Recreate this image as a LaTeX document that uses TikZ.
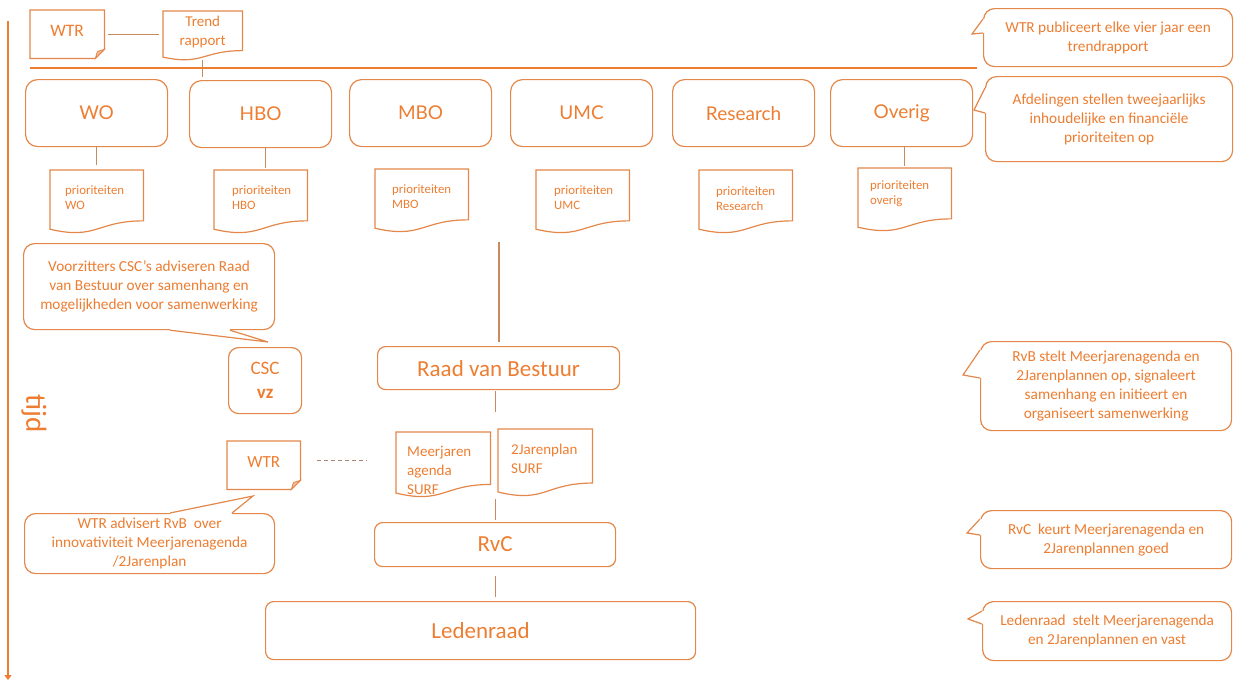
\documentclass[tikz,border=0pt]{standalone}
\usepackage{fontspec}
\setmainfont{Carlito}
\newfontfamily\deptfont{Lato}
\usetikzlibrary{arrows.meta,calc}

\definecolor{surforange}{HTML}{ED7D31}
\definecolor{surfedge}{HTML}{E4874A}
\definecolor{surflink}{HTML}{C98A5E}
\definecolor{surfdash}{HTML}{A8876E}

\newcommand\fsz[2]{\fontsize{#1}{#2}\selectfont}

% document symbol with a wavy lower edge
\newcommand\docoutline[1]{%
  \draw[edge line] (#1.north west) -- (#1.north east)
    -- ($(#1.north east)!0.802!(#1.south east)$)
    .. controls ($(#1.north)!0.802!(#1.south)$) and ($(#1.north)!1.107!(#1.south)$)
    .. ($(#1.north west)!0.934!(#1.south west)$) -- cycle;}

% sheet with a folded lower right corner
\newcommand\foldoutline[1]{%
  \draw[edge line] (#1.north west) -- (#1.north east) -- ($(#1.south east)+(0,-9)$)
    -- ($(#1.south east)+(-9,0)$) -- (#1.south west) -- cycle;
  \filldraw[edge line, line width=0.8pt, fill=surfedge!55] ($(#1.south east)+(-9,0)$)
    -- ($(#1.south east)+(-7,-7)$) -- ($(#1.south east)+(0,-9)$) -- cycle;}

% speech bubble pointer: base point, tip, base point, inward offset
\newcommand\calloutpointer[4]{%
  \fill[white] #1 -- #2 -- #3 -- ($#3+#4$) -- ($#1+#4$) -- cycle;
  \draw[edge line, line join=miter] #1 -- #2 -- #3;}

\tikzset{
  edge line/.style={draw=surfedge, line width=1.2pt},
  dept/.style={edge line, rounded corners=12pt, anchor=north west, minimum width=142pt,
    minimum height=67pt, inner sep=0pt, text=surforange, font=\deptfont\fsz{19}{23}},
  govbox/.style={edge line, rounded corners=8pt, anchor=north west, inner sep=0pt,
    text=surforange, font=\fsz{23}{27}},
  callout/.style={edge line, rounded corners=11pt, anchor=north west, fill=white,
    inner sep=0pt, text=surforange, align=center, font=\fsz{15.3}{19}},
  docarea/.style={inner sep=0pt, anchor=north west},
  doctext/.style={inner sep=0pt, anchor=north west, align=left, text=surforange},
  prio/.style={minimum width=93pt, minimum height=63pt},
  prio text/.style={font=\fsz{12.8}{15.3}},
  plan text/.style={font=\fsz{15}{19}},
  wtrdoc/.style={minimum width=74pt, minimum height=48pt, text=surforange,
    font=\fsz{17.5}{21}, text depth=7pt},
  link/.style={draw=surflink, line width=1.2pt},
  dashlink/.style={draw=surfdash, line width=1.2pt, dash pattern=on 4pt off 3pt},
  timeaxis/.style={draw=surforange, line width=1.4pt, -{Triangle[width=7pt,length=5pt]}},
  topbar/.style={draw=surforange, line width=1.4pt},
}

\begin{document}
\begin{tikzpicture}[x=1pt, y=-1pt]
\useasboundingbox (0,0) rectangle (1234,681);

% time axis
\coordinate (timeTop) at (8,21);
\coordinate (timeEnd) at (8,680);
\draw[timeaxis] (timeTop) -- (timeEnd);
\node[rotate=-90, inner sep=0pt, text=surforange, font=\fsz{29}{33}] (tijd) at (34,414) {tijd};

% trend report
\node[docarea, wtrdoc] (wtrTop) at (30,10) {WTR};
\foldoutline{wtrTop}
\node[docarea, minimum width=79pt, minimum height=49pt,
  label={[doctext, anchor=north, align=center, yshift=-4.5pt, plan text]north:Trend\\rapport}] (trend) at (163,11) {};
\docoutline{trend}

\coordinate (barL) at (30,68);
\coordinate (barR) at (977,68);
\draw[topbar] (barL) -- (barR);

% departments
\node[dept] (WO) at (25,79) {WO};
\node[dept] (HBO) at (189,80) {HBO};
\node[dept] (MBO) at (349,79) {MBO};
\node[dept] (UMC) at (510,79) {UMC};
\node[dept] (Res) at (672,79) {Research};
\node[dept] (Ove) at (830,79) {Overig};

% priorities per department
\node[docarea, prio, label={[doctext, prio text, xshift=15pt, yshift=-15.2pt]north west:prioriteiten\\WO}] (dWO) at (50,170) {};
\node[docarea, prio, label={[doctext, prio text, xshift=18pt, yshift=-15.2pt]north west:prioriteiten\\HBO}] (dHBO) at (214,170) {};
\node[docarea, prio, label={[doctext, prio text, xshift=17pt, yshift=-15.2pt]north west:prioriteiten\\MBO}] (dMBO) at (375,169) {};
\node[docarea, prio, label={[doctext, prio text, xshift=18pt, yshift=-15.2pt]north west:prioriteiten\\UMC}] (dUMC) at (536,170) {};
\node[docarea, prio, label={[doctext, prio text, xshift=17pt, yshift=-16.2pt]north west:prioriteiten\\Research}] (dRes) at (699,170) {};
\node[docarea, prio, label={[doctext, prio text, xshift=12pt, yshift=-12.2pt]north west:prioriteiten\\overig}] (dOve) at (858,168) {};
\foreach \d in {dWO,dHBO,dMBO,dUMC,dRes,dOve} {\docoutline{\d}}

% governance chain
\node[govbox, rounded corners=10pt, minimum width=73pt, minimum height=66pt, align=center,
  font=\fsz{19}{24}] (csc) at (228,347) {CSC\\\textbf{vz}};
\node[govbox, minimum width=242pt, minimum height=43pt] (raad) at (377,346) {Raad van Bestuur};
\node[docarea, wtrdoc, minimum width=73pt, font=\fsz{17}{21}] (wtrLow) at (227,441) {WTR};
\foldoutline{wtrLow}
\node[docarea, minimum width=94pt, minimum height=65pt,
  label={[doctext, plan text, xshift=11pt, yshift=-13.7pt]north west:Meerjaren\\agenda\\SURF}] (mja) at (396,432) {};
\node[docarea, minimum width=94pt, minimum height=67pt,
  label={[doctext, plan text, xshift=13pt, yshift=-14.5pt]north west:2Jarenplan\\SURF}] (jp) at (498,429) {};
\docoutline{mja}
\docoutline{jp}
\node[govbox, minimum width=241pt, minimum height=44pt] (rvc) at (374,522) {RvC};
\node[govbox, minimum width=430pt, minimum height=58pt] (leden) at (265,601) {Ledenraad};

% connectors
\draw[link, shorten <=4pt, shorten >=4pt] (wtrTop.east) -- (wtrTop.east -| trend.west);
\draw[link, shorten >=3pt] (trend.south) -- (trend.south |- HBO.north);
\draw[link, shorten >=5pt] (WO.south) -- (WO.south |- dWO.north);
\draw[link, shorten >=2pt] ([xshift=5pt]HBO.south) -- ([xshift=5pt]HBO.south |- dHBO.north);
\draw[link, shorten >=2pt] ([xshift=3pt]Ove.south) -- ([xshift=3pt]Ove.south |- dOve.north);
\coordinate (collect) at (499,242);
\draw[link, shorten >=4pt] (collect) -- (collect |- raad.north);
\draw[link, shorten <=1pt, shorten >=17pt] ([xshift=-3pt]raad.south) -- ([xshift=-3pt]raad.south |- jp.north);
\draw[link, shorten <=2pt, shorten >=2pt] (rvc.north |- mja.south) -- (rvc.north);
\draw[link, shorten <=9pt, shorten >=4pt] (rvc.south) -- (rvc.south |- leden.north);
\draw[dashlink, shorten <=17pt, shorten >=29pt] ([yshift=5pt]wtrLow.east) -- ([yshift=5pt]wtrLow.east -| mja.west);

% explanations
\node[callout, minimum width=249pt, minimum height=58pt] (cTrend) at (983,8)
  {WTR publiceert elke vier jaar een\\trendrapport};
\node[callout, minimum width=247pt, minimum height=85pt] (cAfd) at (985,76)
  {Afdelingen stellen tweejaarlijks\\inhoudelijke en financiële\\prioriteiten op};
\node[callout, minimum width=251pt, minimum height=86pt] (cCsc) at (23,243)
  {Voorzitters CSC’s adviseren Raad\\van Bestuur over samenhang en\\mogelijkheden voor samenwerking};
\node[callout, minimum width=250pt, minimum height=60pt] (cWtr) at (24,513)
  {WTR advisert RvB\ \ over\\innovativiteit Meerjarenagenda\\/2Jarenplan};
\node[callout, minimum width=251pt, minimum height=89pt] (cRvb) at (980,341)
  {RvB stelt Meerjarenagenda en\\2Jarenplannen op, signaleert\\samenhang en initieert en\\organiseert samenwerking};
\node[callout, minimum width=251pt, minimum height=58pt] (cRvc) at (980,510)
  {RvC\ \ keurt Meerjarenagenda en\\2Jarenplannen goed};
\node[callout, minimum width=249pt, minimum height=59pt] (cLed) at (982,601)
  {Ledenraad\ \ stelt Meerjarenagenda\\en 2Jarenplannen en vast};

\calloutpointer{(cTrend.west |- 0,19)}{(972,34)}{(cTrend.west |- 0,33)}{(2,0)}
\calloutpointer{(cAfd.west |- 0,88)}{(974,110)}{(cAfd.west |- 0,113)}{(2,0)}
\calloutpointer{(cCsc.south -| 170,0)}{(268,342)}{(cCsc.south -| 230,0)}{(0,-2)}
\calloutpointer{(cWtr.north -| 170,0)}{(253,496)}{(cWtr.north -| 232,0)}{(0,2)}
\calloutpointer{(cRvb.west |- 0,350)}{(963,375)}{(cRvb.west |- 0,378)}{(2,0)}
\calloutpointer{(cRvc.west |- 0,519)}{(967,533)}{(cRvc.west |- 0,535)}{(2,0)}
\calloutpointer{(cLed.west |- 0,611)}{(968,619)}{(cLed.west |- 0,624)}{(2,0)}
\end{tikzpicture}
\end{document}
